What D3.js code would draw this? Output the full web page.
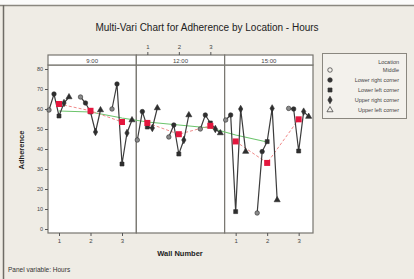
<!DOCTYPE html>
<html>
<head>
<meta charset="utf-8">
<script src="https://cdn.jsdelivr.net/npm/d3@7"></script>
<style>
  html, body { margin: 0; padding: 0; background: #efece5; }
  svg { display: block; font-family: "Liberation Sans", Arial, sans-serif; }
</style>
</head>
<body>
<script>
var width = 414, height = 279;

// data
var hours = ["9:00", "12:00", "15:00"];
var walls = [1, 2, 3];
var locations = ["Middle", "Lower right corner", "Lower left corner", "Upper right corner", "Upper left corner"];
// adherence per wall (rows) and location (columns)
var adherence900 = [[59.5, 67.5, 56.5, 63, 66], [66, 63, 58.5, 48.5, 59.5], [60, 72.5, 32.5, 48, 54.5]];
var adherence1200 = [[44.5, 58.7, 51, 50.5, 60.5], [46, 52, 37.5, 44.5, 57], [50, 57, 53, 50, 48]];
var adherence1500 = [[54.5, 57, 8.7, 60, 38.7], [8, 38.7, 43.7, 60.3, 14.5], [60.3, 60, 39, 58.7, 56.2]];
var greenLine = [[59, 58.5, 55.5], [53.5, 52, 50.5], [47, 43.5]];
var yTicks = [0, 10, 20, 30, 40, 50, 60, 70, 80];

var panelData = [adherence900, adherence1200, adherence1500];

var svg = d3.select("body").append("svg")
  .attr("width", width)
  .attr("height", height);

// window frame
svg.append("rect").attr("width", width).attr("height", 5).attr("fill", "#fbfbfa");
svg.append("line").attr("x1", 0).attr("x2", width).attr("y1", 5.5).attr("y2", 5.5)
  .attr("stroke", "#8a877f").attr("stroke-width", 1.5);
svg.append("line").attr("x1", 3.5).attr("x2", 3.5).attr("y1", 5).attr("y2", height)
  .attr("stroke", "#6f6c66").attr("stroke-width", 1.5);

var stripTop = 55, plotTop = 65, plotBottom = 233;

var panel = d3.scaleBand().domain(hours).range([48, 313]);
var wallX = d3.scalePoint().domain(walls).range([11, 74]);
var locX = d3.scalePoint().domain(locations).range([-10, 10]);
var y = d3.scaleLinear().domain([-2, 82]).range([plotBottom, plotTop]);

function px(h, w, loc) {
  return panel(h) + wallX(w) + (loc === undefined ? 0 : locX(loc));
}

var shapes = [d3.symbolCircle, d3.symbolCircle, d3.symbolSquare, d3.symbolDiamond, d3.symbolTriangle];

// title
svg.append("text").attr("x", 207).attr("y", 31).attr("text-anchor", "middle")
  .attr("font-size", 10).attr("fill", "#222")
  .text("Multi-Vari Chart for Adherence by Location - Hours");

// panels
hours.forEach(function(h, pi) {
  var g = svg.append("g");
  g.append("rect").attr("x", panel(h)).attr("y", plotTop)
    .attr("width", panel.bandwidth()).attr("height", plotBottom - plotTop)
    .attr("fill", "white").attr("stroke", "#77756f").attr("stroke-width", 1.2);
  g.append("rect").attr("x", panel(h)).attr("y", stripTop)
    .attr("width", panel.bandwidth()).attr("height", plotTop - stripTop)
    .attr("fill", "white").attr("stroke", "#77756f").attr("stroke-width", 1.2);
  g.append("text").attr("x", panel(h) + panel.bandwidth() / 2).attr("y", stripTop + 7.5)
    .attr("text-anchor", "middle").attr("font-size", 6).attr("fill", "#444").text(h);
});

// green line across panels
var greenPts = [];
greenLine.forEach(function(vals, pi) {
  vals.forEach(function(v, wi) { greenPts.push([px(hours[pi], walls[wi]), y(v)]); });
});
svg.append("path").attr("d", d3.line()(greenPts))
  .attr("fill", "none").attr("stroke", "#6cc46c").attr("stroke-width", 1.1);

// red dashed means per panel
panelData.forEach(function(rows, pi) {
  var means = rows.map(function(r, wi) { return [px(hours[pi], walls[wi]), y(d3.mean(r))]; });
  svg.append("path").attr("d", d3.line()(means))
    .attr("fill", "none").attr("stroke", "#f08a8a").attr("stroke-width", 1)
    .attr("stroke-dasharray", "3,2");
});

// location points per wall
panelData.forEach(function(rows, pi) {
  rows.forEach(function(r, wi) {
    var pts = r.map(function(v, li) { return [px(hours[pi], walls[wi], locations[li]), y(v)]; });
    svg.append("path").attr("d", d3.line()(pts))
      .attr("fill", "none").attr("stroke", "#3c3c3c").attr("stroke-width", 1.2);
    svg.selectAll(null).data(r).enter().append("path")
      .attr("transform", function(v, li) { return "translate(" + pts[li][0] + "," + pts[li][1] + ")"; })
      .attr("d", function(v, li) { return d3.symbol().type(shapes[li]).size(16)(); })
      .attr("fill", function(v, li) { return li === 0 ? "#8a8a8a" : "#2e2e2e"; })
      .attr("stroke", "#2e2e2e").attr("stroke-width", 0.6);
  });
});

// red mean squares on top
panelData.forEach(function(rows, pi) {
  svg.selectAll(null).data(rows).enter().append("rect")
    .attr("x", function(r, wi) { return px(hours[pi], walls[wi]) - 3; })
    .attr("y", function(r) { return y(d3.mean(r)) - 3; })
    .attr("width", 6).attr("height", 6)
    .attr("fill", "#e3173e");
});

// y axis
var yAxis = svg.append("g").attr("transform", "translate(" + panel(hours[0]) + ",0)")
  .call(d3.axisLeft(y).tickValues(yTicks).tickSize(3).tickPadding(2));
yAxis.select(".domain").remove();
yAxis.selectAll("text").attr("font-size", 5.5).attr("fill", "#444");
yAxis.selectAll("line").attr("stroke", "#555");

// bottom axes on panels 1 and 3
[hours[0], hours[2]].forEach(function(h) {
  var ax = svg.append("g").attr("transform", "translate(" + panel(h) + "," + plotBottom + ")")
    .call(d3.axisBottom(wallX).tickSize(3).tickPadding(3));
  ax.select(".domain").remove();
  ax.selectAll("text").attr("font-size", 6).attr("fill", "#444");
  ax.selectAll("line").attr("stroke", "#555");
});

// top axis on panel 2
var topAx = svg.append("g").attr("transform", "translate(" + panel(hours[1]) + "," + stripTop + ")")
  .call(d3.axisTop(wallX).tickSize(3).tickPadding(3));
topAx.select(".domain").remove();
topAx.selectAll("text").attr("font-size", 6).attr("fill", "#444");
topAx.selectAll("line").attr("stroke", "#555");

// axis titles
svg.append("text").attr("x", 180).attr("y", 256).attr("text-anchor", "middle")
  .attr("font-size", 7.5).attr("font-weight", "bold").attr("fill", "#222").text("Wall Number");
svg.append("text").attr("transform", "translate(24,150) rotate(-90)").attr("text-anchor", "middle")
  .attr("font-size", 7.5).attr("font-weight", "bold").attr("fill", "#222").text("Adherence");
svg.append("text").attr("x", 8).attr("y", 272)
  .attr("font-size", 6.5).attr("fill", "#333").text("Panel variable: Hours");

// legend
var lg = svg.append("g");
lg.append("rect").attr("x", 322.5).attr("y", 53.5).attr("width", 84).attr("height", 65)
  .attr("fill", "#f3f1ec").attr("stroke", "#8a877f");
lg.append("text").attr("x", 399).attr("y", 64).attr("text-anchor", "end")
  .attr("font-size", 5.5).attr("fill", "#444").text("Location");
var rows = lg.selectAll(null).data(locations).enter().append("g")
  .attr("transform", function(d, i) { return "translate(0," + (72 + i * 10) + ")"; });
rows.append("path")
  .attr("transform", "translate(330,-2)")
  .attr("d", function(d, i) { return d3.symbol().type(shapes[i]).size(16)(); })
  .attr("fill", function(d, i) { return (i === 0 || i === 4) ? "none" : "#333"; })
  .attr("stroke", "#333").attr("stroke-width", 0.7);
rows.append("text").attr("x", 399).attr("text-anchor", "end")
  .attr("font-size", 5.5).attr("fill", "#444").text(function(d) { return d; });
</script>
</body>
</html>
